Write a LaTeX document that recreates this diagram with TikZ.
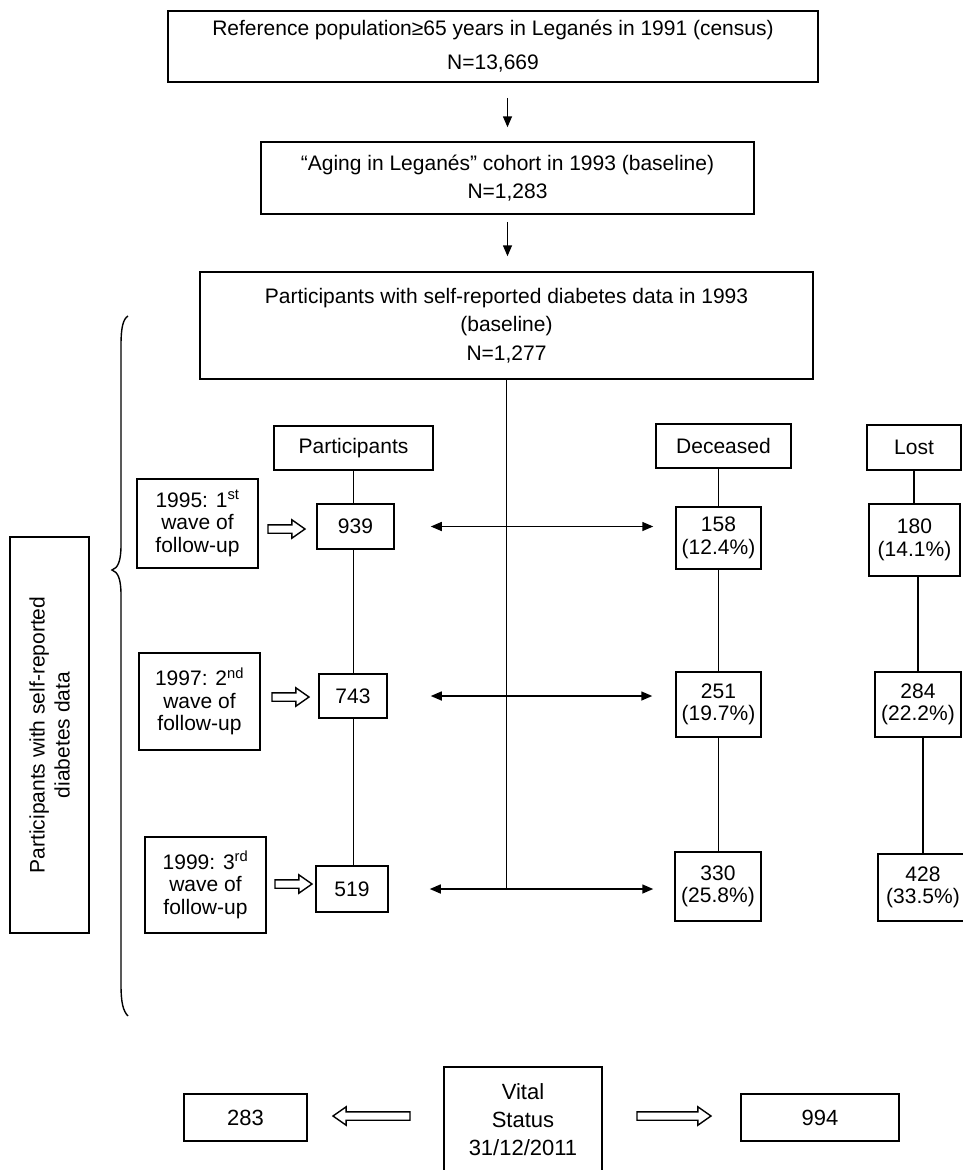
\documentclass[tikz,border=0pt]{standalone}
\usepackage{fontspec}
\setmainfont{Liberation Sans}
\usetikzlibrary{arrows.meta,shapes.arrows,calc}
\begin{document}
\begin{tikzpicture}[x=1pt,y=-1pt,
  box/.style={draw, line width=1.5pt, inner sep=0pt, align=center, font=\fontsize{21}{24}\selectfont},
  tight/.style={font=\fontsize{21}{22.5}\selectfont},
  ln/.style={line width=1.5pt},
  arr/.style={line width=1.5pt, -{Triangle[length=11pt,width=9pt]}},
  dbl/.style={line width=1.5pt, {Triangle[length=11pt,width=9pt]}-{Triangle[length=11pt,width=9pt]}},
  hollow/.style={single arrow, draw, line width=1.4pt, fill=white, inner xsep=0pt, inner ysep=3.5pt, minimum width=0pt, single arrow head extend=5pt, single arrow tip angle=70, minimum height=37pt},
]
\useasboundingbox (0,0) rectangle (963,1170);
\clip (0,0) rectangle (963,1170);

% top chain
\node[box, minimum width=650pt, minimum height=71pt, font=\fontsize{21}{34}\selectfont] (top) at (493,46.5)
  {Reference population≥65 years in Leganés in 1991 (census)\\N=13,669};
\node[box, minimum width=493pt, minimum height=72pt, font=\fontsize{21}{28}\selectfont] (box2) at (507.5,178)
  {“Aging in Leganés” cohort in 1993 (baseline)\\N=1,283};
\node[box, minimum width=613pt, minimum height=107pt, font=\fontsize{21}{28.5}\selectfont] (box3) at (506.5,325.5)
  {Participants with self-reported diabetes data in 1993\\(baseline)\\N=1,277};
\draw[arr, shorten <=15pt, shorten >=14pt] (top.south -| box2.north) -- (box2.north);
\draw[arr, shorten <=7pt, shorten >=15pt] (box2.south) -- (box2.south |- box3.north);

% column headers
\node[box, minimum width=159pt, minimum height=44pt] (part) at (353.5,448) {Participants};
\node[box, minimum width=135pt, minimum height=44pt] (dec) at (723.5,446) {Deceased};
\node[box, minimum width=94pt, minimum height=45pt] (lost) at (914,447.5) {Lost};

% waves
\node[box, tight, minimum width=121pt, minimum height=89pt] (w1) at (197.5,523.5) {1995: 1\textsuperscript{st}\\wave of\\follow-up};
\node[box, tight, minimum width=121pt, minimum height=97pt] (w2) at (199.5,701.5) {1997: 2\textsuperscript{nd}\\wave of\\follow-up};
\node[box, tight, minimum width=121pt, minimum height=96pt] (w3) at (205.5,885) {1999: 3\textsuperscript{rd}\\wave of\\follow-up};

% participants counts
\node[box, minimum width=77pt, minimum height=45pt] (n939) at (355.5,526.5) {939};
\node[box, minimum width=68pt, minimum height=44pt] (n743) at (353,696) {743};
\node[box, minimum width=72pt, minimum height=46pt] (n519) at (352,889) {519};

% deceased counts
\node[box, tight, minimum width=85pt, minimum height=62pt] (d158) at (718.5,538) {158\\(12.4\%)};
\node[box, tight, minimum width=85pt, minimum height=65pt] (d251) at (718.5,704.5) {251\\(19.7\%)};
\node[box, tight, minimum width=86pt, minimum height=69pt] (d330) at (718,886.5) {330\\(25.8\%)};

% lost counts
\node[box, tight, minimum width=91pt, minimum height=72pt] (l180) at (914.5,540) {180\\(14.1\%)};
\node[box, tight, minimum width=86pt, minimum height=65pt] (l284) at (918,704.5) {284\\(22.2\%)};
\node[box, tight, minimum width=90pt, minimum height=67pt] (l428) at (923,887.5) {428\\(33.5\%)};

% hollow arrows from waves
\node[hollow] (a1) at (283.5,529) {};
\node[hollow] (a2) at (287.5,697) {};
\node[hollow] (a3) at (290.5,884) {};

% column lines
\draw[ln] (part.south) -- (part.south |- n939.north);
\draw[ln] (n939.south -| part.south) -- (n743.north -| part.south);
\draw[ln] (n743.south -| part.south) -- (n519.north -| part.south);
\draw[ln] (d158.north |- dec.south) -- (d158.north);
\draw[ln] (d158.south) -- (d251.north);
\draw[ln] (d251.south) -- (d251.south |- d330.north);
\draw[ln] (lost.south) -- (lost.south |- l180.north);
\draw[ln] (l284.north |- l180.south) -- (l284.north);
\draw[ln] (l428.north |- l284.south) -- (l428.north);

% central trunk and double arrows
\draw[ln] (box3.south) -- (box3.south |- n519.east);
\draw[dbl] ([xshift=36pt]n939.east) -- ([xshift=-22pt]n939.east -| d158.west);
\draw[dbl] ([xshift=43pt]n743.east) -- ([xshift=-23pt]n743.east -| d251.west);
\draw[dbl] ([xshift=41pt]n519.east) -- ([xshift=-21pt]n519.east -| d330.west);

% side label and brace
\node[box, rotate=90, minimum width=396pt, minimum height=79pt, font=\fontsize{21}{25}\selectfont] (side) at (49.5,735)
  {Participants with self-reported\\diabetes data};
\draw[line width=1.4pt] (128,316) .. controls (123,319) and (121,328) .. (121,345) -- (121,545)
  .. controls (121,561) and (118,568) .. (112,570) .. controls (118,572) and (121,579) .. (121,595)
  -- (121,985) .. controls (121,1002) and (123,1011) .. (128,1016);

% vital status
\node[box, minimum width=123pt, minimum height=47pt, font=\fontsize{22}{26}\selectfont] (b283) at (245.5,1117.5) {283};
\node[box, minimum width=158pt, minimum height=125pt, font=\fontsize{22}{28}\selectfont] (vital) at (523,1129.5) {};
\node[font=\fontsize{22}{28}\selectfont, align=center, inner sep=0pt] (vtxt) at (523,1120) {Vital\\Status\\31/12/2011};
\node[box, minimum width=158pt, minimum height=47pt, font=\fontsize{22}{26}\selectfont] (b994) at (820,1117.5) {994};
\node[hollow, minimum height=77pt, shape border rotate=180] (aL) at (374.5,1116) {};
\node[hollow, minimum height=74pt] (aR) at (671,1116) {};
\end{tikzpicture}
\end{document}
